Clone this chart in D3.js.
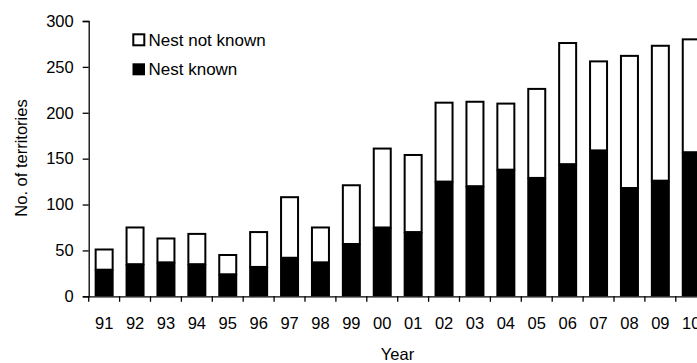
<!DOCTYPE html>
<html><head><meta charset="utf-8">
<script src="https://cdn.jsdelivr.net/npm/d3@7"></script>
<style>body{margin:0;background:#fff}svg{display:block}text{font-family:"Liberation Sans",Arial,sans-serif;fill:#000}</style>
</head><body><svg id="c" width="697" height="363"></svg>
<script>
const years = ["91","92","93","94","95","96","97","98","99","00","01","02","03","04","05","06","07","08","09","10"];
const nestKnown = [29,35,37,35,24,32,42,37,57,75,70,125,120,138,129,144,159,118,126,157];
const totalTerritories = [51,75,63,68,45,70,108,75,121,161,154,211,212,210,226,276,256,262,273,280];
const yTicks = [0,50,100,150,200,250,300];
const legendLabels = ["Nest not known","Nest known"];

const svg = d3.select("#c");
const x0 = 88.7, step = 30.9;
const x = d3.scaleBand().domain(years).range([x0, x0 + step*years.length]).paddingInner(0.45).paddingOuter(0.225);
const y = d3.scaleLinear().domain([0,300]).range([296.3, 21]);

// bars
const g = svg.append("g");
years.forEach((yr,i)=>{
  const bx = x(yr), bw = x.bandwidth();
  g.append("rect").attr("x", bx).attr("y", y(totalTerritories[i])).attr("width", bw)
   .attr("height", y(nestKnown[i]) - y(totalTerritories[i]))
   .attr("fill","#fff").attr("stroke","#000").attr("stroke-width",2);
  g.append("rect").attr("x", bx-1).attr("y", y(nestKnown[i])).attr("width", bw+2)
   .attr("height", y(0) - y(nestKnown[i])).attr("fill","#000");
});

// y axis
const ya = svg.append("g").attr("transform",`translate(${x0},0)`)
  .call(d3.axisLeft(y).tickValues(yTicks).tickSize(6).tickPadding(9).tickFormat(d3.format("d")));
ya.select(".domain").attr("stroke","#000").attr("stroke-width",1.3);
ya.selectAll(".tick line").attr("stroke","#000").attr("stroke-width",1.3);
ya.selectAll("text").style("font-size","16.5px").attr("fill","#000");

// x axis
const xa = svg.append("g").attr("transform",`translate(0,${y(0)})`)
  .call(d3.axisBottom(x).tickSize(0).tickPadding(21));
xa.select(".domain").attr("stroke","#000").attr("stroke-width",1.3);
xa.selectAll("text").style("font-size","16.5px").attr("fill","#000");
const bounds = d3.range(years.length+1).map(i=>x0 + i*x.step());
xa.selectAll(".bt").data(bounds).enter().append("line")
  .attr("x1",d=>d).attr("x2",d=>d).attr("y1",0).attr("y2",5.5)
  .attr("stroke","#000").attr("stroke-width",1.3);

// axis titles
svg.append("text").attr("transform","translate(26.5,158) rotate(-90)")
  .attr("text-anchor","middle").style("font-size","16.5px").text("No. of territories");
svg.append("text").attr("x",397.5).attr("y",359.5).attr("text-anchor","middle")
  .style("font-size","16.5px").text("Year");

// legend
const lg = svg.append("g");
lg.append("rect").attr("x",133.3).attr("y",34.3).attr("width",11).attr("height",11)
  .attr("fill","#fff").attr("stroke","#000").attr("stroke-width",2);
lg.append("rect").attr("x",132.5).attr("y",63.3).attr("width",12.5).attr("height",12)
  .attr("fill","#000");
lg.append("text").attr("x",148.5).attr("y",45.5).style("font-size","17px").text(legendLabels[0]);
lg.append("text").attr("x",148.5).attr("y",75).style("font-size","17px").text(legendLabels[1]);
</script></body></html>
